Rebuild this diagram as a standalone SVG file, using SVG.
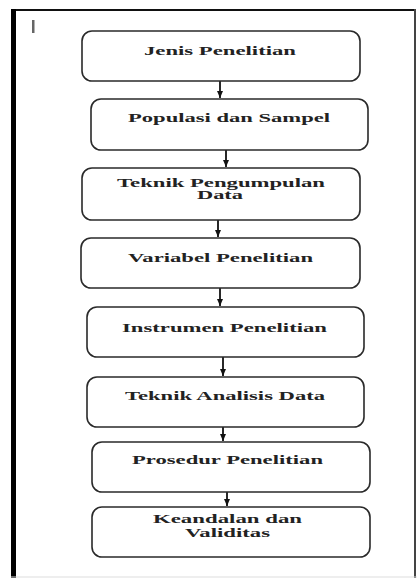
<svg xmlns="http://www.w3.org/2000/svg" width="417" height="578" viewBox="0 0 417 578">
<defs>
<marker id="ah" markerWidth="8" markerHeight="6" refX="7" refY="3" orient="auto" markerUnits="userSpaceOnUse">
<path d="M0,0 L7,3 L0,6 Z" fill="#111"/>
</marker>
<style>
.box{fill:#fff;stroke:#2a2a2a;stroke-width:1.6}
.t{font-family:"Liberation Serif","DejaVu Serif","Times New Roman",serif;font-weight:bold;font-size:11.5px;fill:#222}
.c{stroke:#111;stroke-width:1.8;fill:none;marker-end:url(#ah)}
</style>
</defs>
<rect x="0" y="0" width="417" height="578" fill="#fff"/>
<g id="frame">
<line x1="11" y1="10" x2="415" y2="10" stroke="#111" stroke-width="2"/>
<line x1="13.5" y1="9" x2="13.5" y2="578" stroke="#000" stroke-width="5"/>
<line x1="415" y1="9" x2="415" y2="578" stroke="#444" stroke-width="2"/>
<line x1="11" y1="577" x2="417" y2="577" stroke="#ddd" stroke-width="1"/>
<rect x="32" y="20" width="2.5" height="13" fill="#666"/>
</g>
<g id="connectors">
<path class="c" d="M220,81 V98"/>
<path class="c" d="M226,150 V167"/>
<path class="c" d="M218,220 V237"/>
<path class="c" d="M220,288 V306"/>
<path class="c" d="M223,357 V376"/>
<path class="c" d="M223,427 V441"/>
<path class="c" d="M227,492 V506"/>
</g>
<g id="n1"><rect class="box" x="82" y="31" width="278" height="50" rx="10"/>
<text class="t" font-family="Liberation Serif, serif" x="144" y="55" textLength="152" lengthAdjust="spacingAndGlyphs">Jenis Penelitian</text></g>
<g id="n2"><rect class="box" x="91" y="99" width="277" height="51" rx="10"/>
<text class="t" font-family="Liberation Serif, serif" x="128" y="122" textLength="202" lengthAdjust="spacingAndGlyphs">Populasi dan Sampel</text></g>
<g id="n3"><rect class="box" x="82" y="168" width="278" height="52" rx="10"/>
<text class="t" font-family="Liberation Serif, serif" x="117" y="186.5" textLength="208" lengthAdjust="spacingAndGlyphs">Teknik Pengumpulan</text>
<text class="t" font-family="Liberation Serif, serif" x="197" y="199" textLength="46" lengthAdjust="spacingAndGlyphs">Data</text></g>
<g id="n4"><rect class="box" x="81" y="238" width="279" height="50" rx="10"/>
<text class="t" font-family="Liberation Serif, serif" x="128" y="262" textLength="185" lengthAdjust="spacingAndGlyphs">Variabel Penelitian</text></g>
<g id="n5"><rect class="box" x="87" y="307" width="277" height="50" rx="10"/>
<text class="t" font-family="Liberation Serif, serif" x="122" y="332" textLength="205" lengthAdjust="spacingAndGlyphs">Instrumen Penelitian</text></g>
<g id="n6"><rect class="box" x="87" y="377" width="277" height="50" rx="10"/>
<text class="t" font-family="Liberation Serif, serif" x="125" y="400" textLength="200" lengthAdjust="spacingAndGlyphs">Teknik Analisis Data</text></g>
<g id="n7"><rect class="box" x="92" y="442" width="278" height="50" rx="10"/>
<text class="t" font-family="Liberation Serif, serif" x="132" y="464" textLength="191" lengthAdjust="spacingAndGlyphs">Prosedur Penelitian</text></g>
<g id="n8"><rect class="box" x="92" y="507" width="278" height="50" rx="10"/>
<text class="t" font-family="Liberation Serif, serif" x="153" y="522.5" textLength="149" lengthAdjust="spacingAndGlyphs">Keandalan dan</text>
<text class="t" font-family="Liberation Serif, serif" x="185" y="537" textLength="85" lengthAdjust="spacingAndGlyphs">Validitas</text></g>
</svg>
